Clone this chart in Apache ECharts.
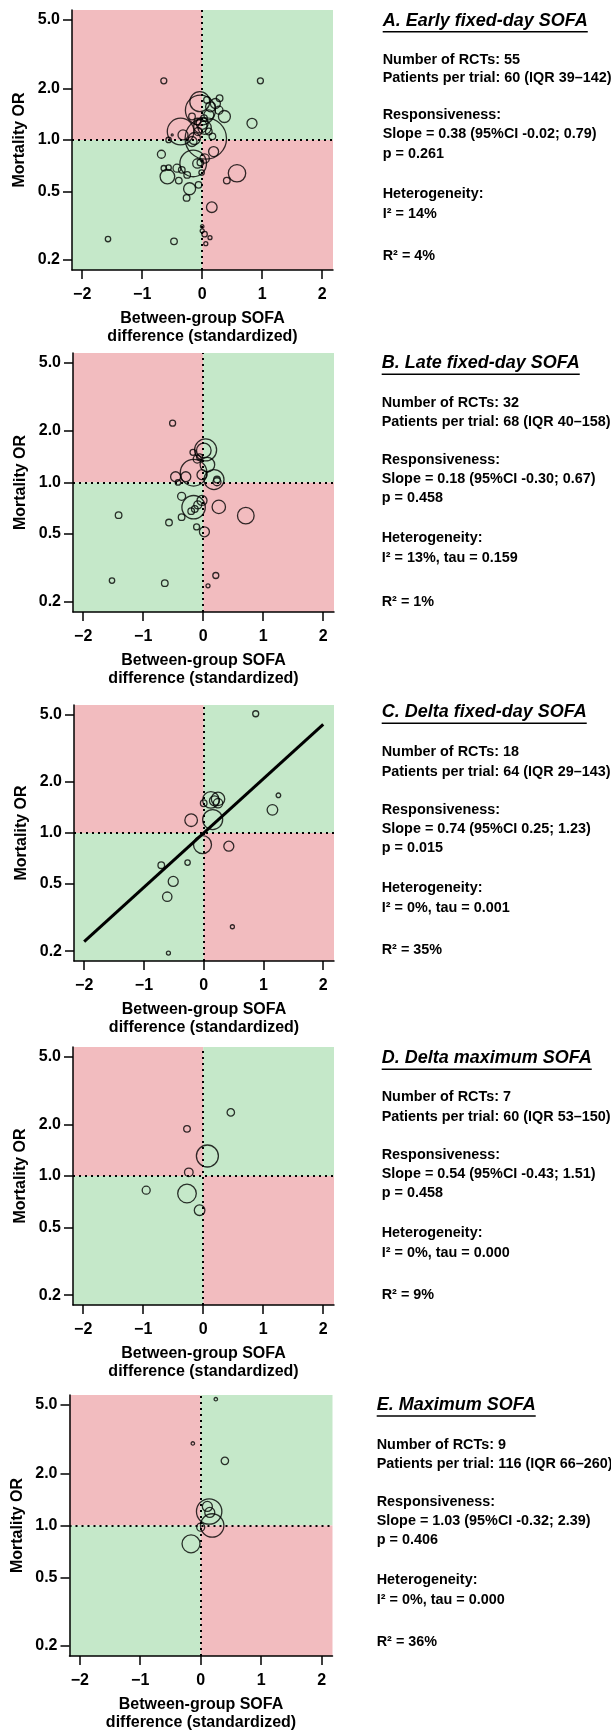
<!DOCTYPE html>
<html>
<head>
<meta charset="utf-8">
<script src="https://cdn.jsdelivr.net/npm/echarts@6/dist/echarts.min.js"></script>
<style>
html,body{margin:0;padding:0;background:#fff;}
#chart{width:611px;height:1733px;}
</style>
</head>
<body>
<div id="chart"></div>
<script>
// ---------------- DATA ----------------
const xTicks = [-2, -1, 0, 1, 2];
const yTicks = [0.2, 0.5, 1.0, 2.0, 5.0];

// each trial: [between-group SOFA difference (standardized), mortality OR, relative trial weight]
const trialsA = [
  [-0.64, 2.21, 3], [0.97, 2.21, 3], [-1.57, 0.265, 2.7], [-0.47, 0.257, 3.3],
  [0.00, 0.314, 1.7], [0.00, 0.296, 2], [0.04, 0.283, 2.7], [0.13, 0.27, 2],
  [0.06, 0.249, 2], [0.16, 0.406, 5.3], [0.58, 0.64, 8.7], [0.41, 0.58, 3.3],
  [0.83, 1.25, 5], [0.29, 1.75, 3.3], [0.37, 1.37, 6], [0.19, 0.856, 5],
  [0.06, 1.02, 20.7], [-0.03, 1.49, 15], [-0.36, 1.12, 13.3], [-0.32, 1.07, 5],
  [-0.17, 0.98, 5], [-0.15, 0.73, 13.3], [-0.68, 0.826, 4], [-0.64, 0.685, 2.7],
  [-0.56, 0.69, 2.7], [-0.42, 0.685, 4], [-0.58, 0.612, 7.3], [-0.34, 0.67, 3.3],
  [-0.39, 0.58, 3.3], [-0.25, 0.626, 3.3], [-0.21, 0.52, 6], [-0.26, 0.46, 3.3],
  [-0.06, 0.548, 3.3], [-0.01, 0.646, 2.7], [-0.08, 0.73, 4.7], [-0.03, 0.74, 3.3],
  [0.04, 0.78, 4.7], [-0.56, 1.0, 2.7], [-0.50, 1.07, 1], [-0.17, 1.37, 3.3],
  [-0.08, 1.28, 3.3], [0.00, 1.25, 6], [0.04, 1.18, 6.7], [0.11, 1.40, 5],
  [0.14, 1.56, 5], [0.17, 1.05, 3.3], [-0.03, 1.20, 6.7], [0.08, 1.71, 3.3],
  [0.22, 1.63, 5], [-0.04, 1.67, 10], [0.03, 1.34, 3.3], [-0.13, 1.02, 6],
  [0.28, 1.49, 4], [-0.07, 1.12, 4], [0.11, 1.12, 3.3]
];
const trialsB = [
  [-0.51, 2.22, 3], [0.04, 1.55, 11], [0.01, 1.54, 7.3], [-0.17, 1.50, 3],
  [-0.10, 1.37, 4], [-0.06, 1.41, 3], [0.07, 1.27, 7.3], [-0.02, 1.11, 5],
  [-0.16, 1.14, 13.3], [-0.46, 1.08, 5], [-0.29, 1.08, 5], [-0.42, 1.0, 2.7],
  [0.18, 1.04, 10], [0.23, 1.01, 4], [0.23, 1.04, 3.3], [-0.36, 0.83, 4],
  [-0.02, 0.785, 5], [-0.09, 0.74, 4], [-0.16, 0.717, 11.7], [-0.14, 0.70, 3.3],
  [-0.20, 0.68, 3.3], [0.26, 0.72, 6.7], [0.71, 0.64, 8.3], [-1.41, 0.644, 3.3],
  [-0.57, 0.583, 3.3], [-0.36, 0.627, 3.3], [-0.11, 0.55, 3], [0.02, 0.515, 5],
  [-1.52, 0.267, 2.7], [-0.64, 0.258, 3.3], [0.21, 0.286, 3], [0.08, 0.249, 2]
];
const trialsC = [
  [0.87, 5.07, 3], [1.25, 1.67, 2.3], [1.15, 1.37, 5.3], [0.12, 1.57, 8.3],
  [0.24, 1.59, 6.7], [0.24, 1.50, 4.7], [0.00, 1.50, 3.3], [0.15, 1.20, 10],
  [-0.21, 1.19, 6.3], [-0.02, 0.853, 9], [0.42, 0.835, 5], [-0.27, 0.668, 2.7],
  [-0.71, 0.645, 3.3], [-0.51, 0.517, 5], [-0.61, 0.42, 4.7], [0.48, 0.279, 2],
  [-0.59, 0.195, 2], [0.18, 1.55, 5]
];
const trialsD = [
  [0.46, 2.36, 3.7], [-0.27, 1.89, 3.3], [0.07, 1.31, 11], [-0.24, 1.05, 4.3],
  [-0.95, 0.825, 4], [-0.27, 0.789, 9.3], [-0.06, 0.63, 5.3]
];
const trialsE = [
  [0.25, 5.4, 1.7], [-0.13, 2.99, 1.7], [0.40, 2.37, 3.7], [0.14, 1.205, 12.7],
  [0.11, 1.29, 5], [0.15, 1.19, 5], [0.19, 1.0, 11.7], [0.00, 0.978, 4],
  [-0.16, 0.783, 9]
];
// fitted meta-regression line (panel C), endpoints
const fitLineC = [[-2, 0.228], [2, 4.39]];

const panelTitles = [
  'A. Early fixed-day SOFA', 'B. Late fixed-day SOFA', 'C. Delta fixed-day SOFA',
  'D. Delta maximum SOFA', 'E. Maximum SOFA'
];
const statsA = ['Number of RCTs: 55', 'Patients per trial: 60 (IQR 39–142)', 'Responsiveness:',
  'Slope = 0.38 (95%CI -0.02; 0.79)', 'p = 0.261', 'Heterogeneity:', 'I² = 14%', 'R² = 4%'];
const statsB = ['Number of RCTs: 32', 'Patients per trial: 68 (IQR 40–158)', 'Responsiveness:',
  'Slope = 0.18 (95%CI -0.30; 0.67)', 'p = 0.458', 'Heterogeneity:', 'I² = 13%, tau = 0.159', 'R² = 1%'];
const statsC = ['Number of RCTs: 18', 'Patients per trial: 64 (IQR 29–143)', 'Responsiveness:',
  'Slope = 0.74 (95%CI 0.25; 1.23)', 'p = 0.015', 'Heterogeneity:', 'I² = 0%, tau = 0.001', 'R² = 35%'];
const statsD = ['Number of RCTs: 7', 'Patients per trial: 60 (IQR 53–150)', 'Responsiveness:',
  'Slope = 0.54 (95%CI -0.43; 1.51)', 'p = 0.458', 'Heterogeneity:', 'I² = 0%, tau = 0.000', 'R² = 9%'];
const statsE = ['Number of RCTs: 9', 'Patients per trial: 116 (IQR 66–260)', 'Responsiveness:',
  'Slope = 1.03 (95%CI -0.32; 2.39)', 'p = 0.406', 'Heterogeneity:', 'I² = 0%, tau = 0.000', 'R² = 36%'];

// ---------------- LAYOUT / STYLE ----------------
const FONT = '"Liberation Sans", Arial, Helvetica, sans-serif';
const PINK = '#F2BCBF';
const GREEN = '#C5E8C9';
const X_MIN = -2.17, X_MAX = 2.18, Y_MIN = 0.175, Y_MAX = 5.71;

const grids = [
  { left: 72, top: 10, width: 261, height: 260 },
  { left: 73, top: 353, width: 261, height: 259 },
  { left: 74, top: 705, width: 260, height: 256 },
  { left: 73, top: 1047, width: 261, height: 258 },
  { left: 69.5, top: 1395, width: 263, height: 262 }
];
const textLayout = [
  { x: 382.7, ys: [20.7, 60, 78.5, 115, 134.5, 154, 194.5, 214.5, 256] },
  { x: 381.7, ys: [363.3, 403.3, 422.3, 460, 479, 498.3, 538.3, 558.3, 601.7] },
  { x: 381.7, ys: [712.3, 751.7, 771.7, 810, 829.3, 848.3, 888.3, 908.3, 950] },
  { x: 381.7, ys: [1058.3, 1096.7, 1116.7, 1155, 1174.3, 1193.3, 1233.3, 1253.3, 1295] },
  { x: 376.7, ys: [1405, 1445, 1464, 1502, 1521, 1540, 1580, 1600, 1642] }
];

const trials = [trialsA, trialsB, trialsC, trialsD, trialsE];
const stats = [statsA, statsB, statsC, statsD, statsE];

const sizeOf = (v) => 2 * v[2];

const xAxes = [], yAxes = [], series = [], graphics = [];

grids.forEach((g, i) => {
  xAxes.push({
    type: 'value', gridIndex: i, min: X_MIN, max: X_MAX, z: 10,
    axisLine: { show: true, onZero: false, lineStyle: { color: '#000', width: 1.5 } },
    axisTick: { show: true, length: 9, customValues: xTicks, lineStyle: { color: '#000', width: 1.5 } },
    axisLabel: {
      customValues: xTicks, margin: 17, color: '#000', fontWeight: 'bold', fontSize: 16, fontFamily: FONT,
      formatter: (v) => (v < 0 ? '\u2212' + Math.abs(v) : String(v))
    },
    splitLine: { show: false },
    name: 'Between-group SOFA\ndifference (standardized)',
    nameLocation: 'middle', nameGap: 40,
    nameTextStyle: { color: '#000', fontWeight: 'bold', fontSize: 16, lineHeight: 18, fontFamily: FONT }
  });
  yAxes.push({
    type: 'log', logBase: 10, gridIndex: i, min: Y_MIN, max: Y_MAX, z: 10,
    axisLine: { show: true, onZero: false, lineStyle: { color: '#000', width: 1.5 } },
    axisTick: { show: true, length: 9, customValues: yTicks, lineStyle: { color: '#000', width: 1.5 } },
    minorTick: { show: false },
    axisLabel: {
      customValues: yTicks, margin: 12, color: '#000', fontWeight: 'bold', fontSize: 16, fontFamily: FONT,
      formatter: (v) => Number(v).toFixed(1)
    },
    splitLine: { show: false },
    name: 'Mortality OR', nameLocation: 'middle', nameGap: 44, nameRotate: 90,
    nameTextStyle: { color: '#000', fontWeight: 'bold', fontSize: 16, fontFamily: FONT }
  });

  series.push({
    type: 'scatter', xAxisIndex: i, yAxisIndex: i, z: 3,
    data: trials[i],
    symbol: 'circle',
    symbolSize: sizeOf,
    itemStyle: { color: 'rgba(0,0,0,0)', borderColor: '#000', borderWidth: 1.3 },
    emphasis: { disabled: true },
    silent: true,
    markArea: {
      silent: true, z: 1,
      data: [
        [{ coord: [X_MIN, 1], itemStyle: { color: PINK } }, { coord: [0, Y_MAX] }],
        [{ coord: [0, 1], itemStyle: { color: GREEN } }, { coord: [X_MAX, Y_MAX] }],
        [{ coord: [X_MIN, Y_MIN], itemStyle: { color: GREEN } }, { coord: [0, 1] }],
        [{ coord: [0, Y_MIN], itemStyle: { color: PINK } }, { coord: [X_MAX, 1] }]
      ]
    },
    markLine: {
      silent: true, symbol: ['none', 'none'], z: 2,
      label: { show: false },
      lineStyle: { color: '#000', width: 2, type: [2, 4] },
      emphasis: { disabled: true },
      data: [{ xAxis: 0 }, { yAxis: 1 }]
    }
  });

  // text block
  const tl = textLayout[i];
  const titleFont = 'italic bold 18px ' + FONT;
  const ctx = document.createElement('canvas').getContext('2d');
  ctx.font = titleFont;
  const tw = ctx.measureText(panelTitles[i]).width;
  graphics.push({
    type: 'text', x: tl.x, y: tl.ys[0], z: 20,
    style: { text: panelTitles[i], font: titleFont, fill: '#000', verticalAlign: 'middle', align: 'left' }
  });
  graphics.push({
    type: 'line', z: 20,
    shape: { x1: tl.x, y1: tl.ys[0] + 11, x2: tl.x + tw, y2: tl.ys[0] + 11 },
    style: { stroke: '#000', lineWidth: 1.5 }
  });
  stats[i].forEach((line, k) => {
    graphics.push({
      type: 'text', x: tl.x, y: tl.ys[k + 1], z: 20,
      style: { text: line, font: 'bold 14.4px ' + FONT, fill: '#000', verticalAlign: 'middle', align: 'left' }
    });
  });
});

series.push({
  type: 'line', xAxisIndex: 2, yAxisIndex: 2, z: 4,
  data: fitLineC, showSymbol: false, silent: true,
  lineStyle: { color: '#000', width: 3 },
  emphasis: { disabled: true }
});

const chart = echarts.init(document.getElementById('chart'), null, { renderer: 'canvas' });
chart.setOption({
  animation: false,
  backgroundColor: '#fff',
  grid: grids.map(g => Object.assign({ containLabel: false }, g)),
  xAxis: xAxes,
  yAxis: yAxes,
  series: series,
  graphic: { elements: graphics }
});
</script>
</body>
</html>
